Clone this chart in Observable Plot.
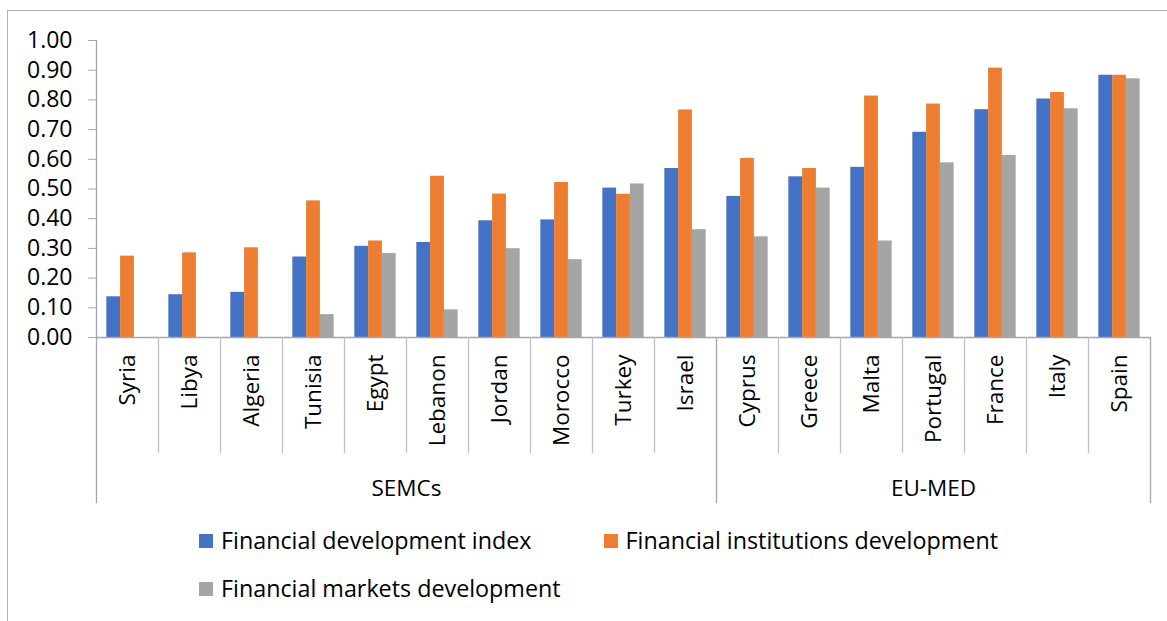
<!DOCTYPE html>
<html>
<head>
<meta charset="utf-8">
<script src="https://cdn.jsdelivr.net/npm/d3@7"></script>
<script src="https://cdn.jsdelivr.net/npm/@observablehq/plot@0.6"></script>
<style>
  html, body { margin: 0; padding: 0; background: #fff; }
  #wrap { position: relative; width: 1167px; height: 621px; overflow: hidden; font-family: "Open Sans", Lato, sans-serif; }
  #border { position: absolute; left: 7px; top: 10px; width: 1300px; height: 700px; border-left: 1px solid #b4b4b4; border-top: 1px solid #b4b4b4; }
  #chart { position: absolute; left: 0; top: 0; }
  .legend-item { position: absolute; display: flex; align-items: center; font-size: 23.3px; color: #000; white-space: nowrap; line-height: 1; }
  .legend-item .sw { width: 14px; height: 14px; margin-right: 8px; flex: none; }
</style>
</head>
<body>
<div id="wrap">
  <div id="border"></div>
  <div id="chart"></div>
  <div id="legend"></div>
</div>
<script>
const countries = ["Syria","Libya","Algeria","Tunisia","Egypt","Lebanon","Jordan","Morocco","Turkey","Israel","Cyprus","Greece","Malta","Portugal","France","Italy","Spain"];
const regions = ["SEMCs","SEMCs","SEMCs","SEMCs","SEMCs","SEMCs","SEMCs","SEMCs","SEMCs","SEMCs","EU-MED","EU-MED","EU-MED","EU-MED","EU-MED","EU-MED","EU-MED"];
const financialDevelopmentIndex = [0.137,0.144,0.152,0.271,0.307,0.320,0.393,0.396,0.503,0.569,0.475,0.541,0.573,0.691,0.767,0.803,0.883];
const financialInstitutionsDevelopment = [0.274,0.285,0.302,0.460,0.325,0.543,0.483,0.522,0.482,0.766,0.603,0.569,0.813,0.786,0.907,0.825,0.883];
const financialMarketsDevelopment = [null,null,0.0,0.077,0.283,0.093,0.299,0.262,0.517,0.363,0.339,0.503,0.325,0.588,0.613,0.770,0.871];
const seriesNames = ["Financial development index","Financial institutions development","Financial markets development"];
const seriesColors = ["#4472C4","#ED7D31","#A5A5A5"];
const yTicks = [0,0.1,0.2,0.3,0.4,0.5,0.6,0.7,0.8,0.9,1.0];

const FONT = "'Open Sans', Lato, sans-serif";
const W = 1167, H = 515, mL = 96, mR = 17, mT = 40, mB = 178;
const bw = (W - mL - mR) / countries.length;
const barW = bw / 4.5;
const seriesValues = [financialDevelopmentIndex, financialInstitutionsDevelopment, financialMarketsDevelopment];
const idx = countries.map((_, i) => i);

const barMarks = seriesValues.map((vals, s) =>
  Plot.barY(idx.filter(i => vals[i] != null), {
    x: i => countries[i],
    y: i => vals[i],
    fill: seriesColors[s],
    insetLeft: barW * (0.75 + s),
    insetRight: bw - barW * (1.75 + s)
  })
);

// region groups
const groupNames = [...new Set(regions)];
const groups = groupNames.map(g => {
  const first = regions.indexOf(g), last = regions.lastIndexOf(g);
  return {name: g, first, last, n: last - first + 1};
});
const longLeft = new Set(groups.map(g => g.first));
const axisGray = "#a6a6a6";
const divGray = "#bfbfbf";
const yShort = -0.39, yLong = -0.56, yLabel = -0.508;

const chart = Plot.plot({
  width: W, height: H,
  marginLeft: mL, marginRight: mR, marginTop: mT, marginBottom: mB,
  style: {fontFamily: FONT, background: "transparent", overflow: "visible"},
  x: {domain: countries, padding: 0, axis: null},
  y: {domain: [0, 1], axis: null},
  marks: [
    ...barMarks,
    Plot.ruleY([0], {stroke: axisGray, strokeWidth: 1.3}),
    Plot.axisY({ticks: yTicks, tickFormat: d3.format(".2f"), tickSize: 8, tickPadding: 16, fontSize: 23, stroke: axisGray, fill: "#000"}),
    // short category dividers
    Plot.ruleX(idx.filter(i => !longLeft.has(i)), {x: i => countries[i], dx: -bw / 2, y1: 0, y2: yShort, stroke: divGray, strokeWidth: 1.3}),
    // long group dividers
    Plot.ruleX(idx.filter(i => longLeft.has(i) && i > 0), {x: i => countries[i], dx: -bw / 2, y1: 0, y2: yLong, stroke: axisGray, strokeWidth: 1.3}),
    // y axis line, continuing down as the first group divider
    Plot.ruleX([0], {x: i => countries[i], dx: -bw / 2, y1: 1, y2: yLong, stroke: axisGray, strokeWidth: 1.3}),
    // right end
    Plot.ruleX([countries.length - 1], {x: i => countries[i], dx: bw / 2, y1: 0, y2: yLong, stroke: axisGray, strokeWidth: 1.3}),
    // category labels (rotated)
    Plot.text(countries, {
      x: d => d, y: 0, text: d => d, rotate: -90, textAnchor: "end", lineAnchor: "middle",
      dy: 17, fontSize: 22.5, fill: "#000"
    }),
    // group labels (odd-sized groups centred on middle category)
    Plot.text(groups.filter(g => g.n % 2 === 1), {
      x: g => countries[g.first + Math.floor(g.n / 2)],
      y: yLabel, text: "name", fontSize: 22.5, fill: "#000"
    }),
    // even-sized groups centred on the boundary between the two middle categories
    Plot.text(groups.filter(g => g.n % 2 === 0), {
      x: g => countries[g.first + g.n / 2],
      dx: -bw / 2,
      y: yLabel, text: "name", fontSize: 22.5, fill: "#000"
    })
  ]
});
document.getElementById("chart").appendChild(chart);

// legend
const legendPos = [{left: 199, top: 541}, {left: 603.5, top: 541}, {left: 199, top: 589}];
const legend = document.getElementById("legend");
seriesNames.forEach((name, s) => {
  const item = document.createElement("div");
  item.className = "legend-item";
  item.style.left = legendPos[s].left + "px";
  item.style.top = (legendPos[s].top - 12) + "px";
  item.style.height = "24px";
  const sw = document.createElement("span");
  sw.className = "sw";
  sw.style.background = seriesColors[s];
  const tx = document.createElement("span");
  tx.textContent = name;
  item.appendChild(sw);
  item.appendChild(tx);
  legend.appendChild(item);
});
</script>
</body>
</html>
